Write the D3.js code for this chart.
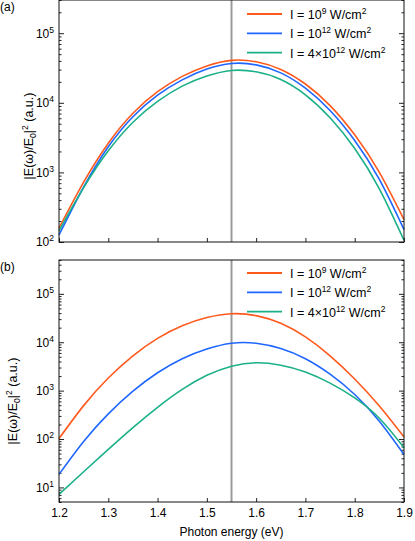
<!DOCTYPE html>
<html>
<head>
<meta charset="utf-8">
<script src="https://cdn.jsdelivr.net/npm/d3@7"></script>
<style>
  body { margin: 0; background: #fff; }
  svg { font-family: "Liberation Sans", Arial, Helvetica, sans-serif; }
  .tick line { stroke: #222; }
</style>
</head>
<body>
<div id="chart"></div>
<script>
// photon energy (eV)
var energy = [1.2, 1.25, 1.3, 1.35, 1.4, 1.45, 1.5, 1.55, 1.6, 1.65, 1.7, 1.75, 1.8, 1.85, 1.9];

// panel (a)
var a_I9    = [158, 724, 2630, 7080, 14450, 23990, 33880, 40740, 38900, 30200, 18620, 9120, 3470, 1000, 209];
var a_I12   = [126, 617, 2340, 6310, 12880, 21380, 30550, 36730, 35080, 26920, 16220, 7760, 2880, 794, 151];
var a_I4e12 = [145, 603, 2040, 5250, 10470, 17380, 24270, 29170, 27860, 21630, 13030, 6100, 2210, 582, 106];

// panel (b)
var b_I9    = [102, 490, 1820, 5250, 12020, 21880, 32360, 38900, 35480, 24550, 12880, 5250, 1740, 479, 110];
var b_I12   = [18.6, 89.1, 331, 977, 2340, 4570, 7240, 9550, 9550, 7410, 4570, 2190, 832, 234, 47.9];
var b_I4e12 = [7.16, 21.1, 61.0, 172, 452, 1060, 2070, 3200, 3760, 3350, 2430, 1430, 708, 269, 66.1];

var seriesNames = [["I = 10", "9"], ["I = 10", "12"], ["I = 4\u00d710", "12"]];
var colors = ["#ff5a1e", "#1f66ff", "#1bb088"];
var xTicks = [1.2, 1.3, 1.4, 1.5, 1.6, 1.7, 1.8, 1.9];
var markE = 1.55;

var width = 415, height = 541;
var left = 59, right = 404;

var svg = d3.select("#chart").append("svg")
  .attr("width", width)
  .attr("height", height);

var x = d3.scaleLinear().domain([1.2, 1.9]).range([left, right]);

var panels = [
  { tag: "(a)", top: 0, bottom: 242, dom: [100, 3e5], exps: [2, 3, 4, 5],
    data: [a_I9, a_I12, a_I4e12], xlabels: false, labX: 33, labY: 136, tagY: 11, legY: 14 },
  { tag: "(b)", top: 260, bottom: 502, dom: [5, 5e5], exps: [1, 2, 3, 4, 5],
    data: [b_I9, b_I12, b_I4e12], xlabels: true, labX: 17, labY: 401, tagY: 271, legY: 273 }
];

panels.forEach(function(p) {
  var y = d3.scaleLog().domain(p.dom).range([p.bottom, p.top]);
  var g = svg.append("g");

  var majors = p.exps.map(function(e) { return Math.pow(10, e); });
  var minors = [];
  for (var e = 0; e <= 5; e++) {
    for (var m = 2; m <= 9; m++) {
      var v = m * Math.pow(10, e);
      if (v >= p.dom[0] && v <= p.dom[1]) minors.push(v);
    }
  }

  // y ticks, both sides, pointing in
  g.append("g").attr("transform", "translate(" + left + ",0)")
    .call(d3.axisLeft(y).tickValues(majors).tickSize(-5).tickFormat(""));
  g.append("g").attr("transform", "translate(" + left + ",0)")
    .call(d3.axisLeft(y).tickValues(minors).tickSize(-2.5).tickFormat(""));
  g.append("g").attr("transform", "translate(" + right + ",0)")
    .call(d3.axisRight(y).tickValues(majors).tickSize(-5).tickFormat(""));
  g.append("g").attr("transform", "translate(" + right + ",0)")
    .call(d3.axisRight(y).tickValues(minors).tickSize(-2.5).tickFormat(""));

  // x ticks
  var xa = g.append("g").attr("transform", "translate(0," + p.bottom + ")")
    .call(d3.axisBottom(x).tickValues(xTicks).tickSize(-4).tickPadding(6)
      .tickFormat(p.xlabels ? d3.format(".1f") : ""));
  xa.selectAll("text").attr("font-size", "12px").attr("fill", "#000")
    .attr("font-family", "Liberation Sans, Arial, sans-serif");

  g.selectAll(".domain").remove();

  // y tick labels 10^n
  var yl = g.append("g").selectAll("text")
    .data(p.exps).enter().append("text")
    .attr("x", 54)
    .attr("y", function(d) { return y(Math.pow(10, d)); })
    .attr("dy", "0.36em")
    .attr("text-anchor", "end")
    .attr("font-size", "12px");
  yl.append("tspan").text("10");
  yl.append("tspan").attr("dy", -5).attr("font-size", "8.5px").text(function(d) { return d; });

  // vertical marker
  g.append("line")
    .attr("x1", x(markE)).attr("x2", x(markE))
    .attr("y1", p.top).attr("y2", p.bottom)
    .attr("stroke", "#9a9a9a").attr("stroke-width", 2);

  // curves
  var line = d3.line()
    .x(function(d, i) { return x(energy[i]); })
    .y(function(d) { return y(d); })
    .curve(d3.curveNatural);

  g.append("g").selectAll("path")
    .data(p.data).enter().append("path")
    .attr("d", line)
    .attr("fill", "none")
    .attr("stroke", function(d, i) { return colors[i]; })
    .attr("stroke-width", 1.6);

  // frame
  g.append("rect")
    .attr("x", left).attr("y", p.top)
    .attr("width", right - left).attr("height", p.bottom - p.top)
    .attr("fill", "none").attr("stroke", "#111").attr("stroke-width", 1);

  // legend
  var leg = g.append("g");
  seriesNames.forEach(function(s, i) {
    var ly = p.legY + i * 19.3;
    leg.append("line")
      .attr("x1", 247).attr("x2", 282)
      .attr("y1", ly).attr("y2", ly)
      .attr("stroke", colors[i]).attr("stroke-width", 1.8);
    var t = leg.append("text").attr("x", 290).attr("y", ly + 5).attr("font-size", "12.5px");
    t.append("tspan").text(s[0]);
    t.append("tspan").attr("dy", -5).attr("font-size", "8.5px").text(s[1]);
    t.append("tspan").attr("dy", 5).text(" W/cm");
    t.append("tspan").attr("dy", -5).attr("font-size", "8.5px").text("2");
  });

  // y label
  var lab = g.append("text")
    .attr("transform", "translate(" + p.labX + "," + p.labY + ") rotate(-90)")
    .attr("text-anchor", "middle")
    .attr("font-size", "12.5px");
  lab.append("tspan").text("|E(\u03c9)/E");
  lab.append("tspan").attr("dy", 3).attr("font-size", "8.5px").text("0");
  lab.append("tspan").attr("dy", -3).text("|");
  lab.append("tspan").attr("dy", -5).attr("font-size", "8.5px").text("2");
  lab.append("tspan").attr("dy", 5).text(" (a.u.)");

  // panel tag
  g.append("text").attr("x", 0).attr("y", p.tagY)
    .attr("font-size", "12px").text(p.tag);
});

svg.append("text")
  .attr("x", x(1.55)).attr("y", 536)
  .attr("text-anchor", "middle")
  .attr("font-size", "12px")
  .text("Photon energy (eV)");
</script>
</body>
</html>
